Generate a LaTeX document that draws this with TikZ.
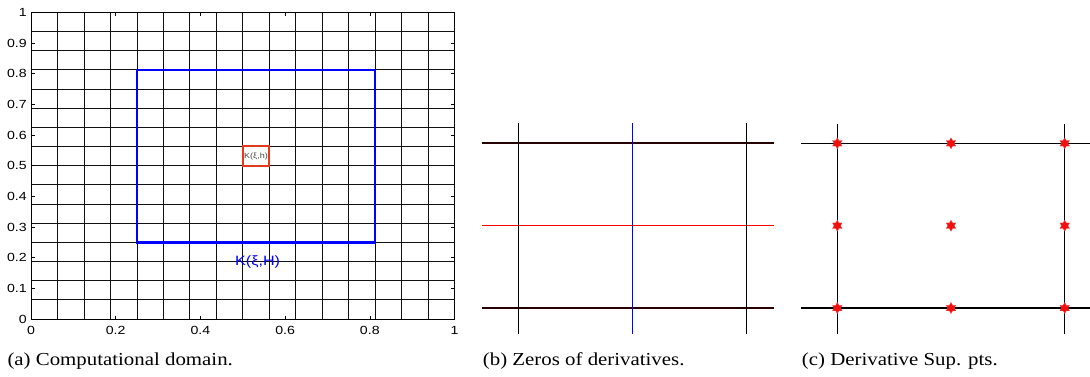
\documentclass[tikz,border=0pt]{standalone}
\usepackage{fontspec}
\setmainfont{Liberation Serif}
\newfontfamily\axisfont[FakeStretch=1.2]{Liberation Sans}
\newfontfamily\capfont[FakeStretch=1.14]{Liberation Serif}
\usetikzlibrary{shapes.geometric}
\definecolor{boxblue}{HTML}{0000FF}
\definecolor{cellred}{HTML}{E2381C}
\definecolor{zerored}{HTML}{FF0000}
\definecolor{starred}{HTML}{F01010}
\definecolor{ink}{HTML}{111111}

\begin{document}
\begin{tikzpicture}[
    x=1pt, y=-1pt,
    gridline/.style={draw=ink, line width=0.75pt},
    axisbox/.style={draw=black, line width=1pt},
    ticklab/.style={font=\axisfont\fontsize{11.8}{12}\selectfont, inner sep=0pt},
    domainbox/.style={draw=boxblue, line width=2.6pt},
    cellbox/.style={draw=cellred, line width=2pt, minimum width=26.5pt, minimum height=19.2pt,
      inner sep=0pt, font=\axisfont\fontsize{7.5}{8}\selectfont, text=ink!80},
    meshline/.style={draw=black, line width=1.3pt},
    zeroline/.style={line width=1.2pt},
    supstar/.style={star, star points=6, star point ratio=1.73, minimum size=11pt,
      inner sep=0pt, fill=starred, draw=starred!80, line width=0.3pt},
    caption/.style={font=\capfont\fontsize{18.3}{20}\selectfont, inner sep=0pt, anchor=base west}
  ]
  \useasboundingbox (0,0) rectangle (1090,376);

  % (a) computational domain, unit square
  \begin{scope}[shift={(31,319)}, x=423.5pt, y=306.7pt]
    \foreach \k in {0,...,16} {
      \draw[gridline] (\k/16,0) -- (\k/16,1);
      \draw[gridline] (0,\k/16) -- (1,\k/16);
    }
    \draw[axisbox] (0,0) rectangle (1,1);
    \foreach \v/\s [count=\i] in {0/0,0.2/0.2,0.4/0.4,0.6/0.6,0.8/0.8,1/1} {
      \draw[line width=0.6pt] (\v,0) -- ++(0,3.5pt) (\v,1) -- ++(0,-3.5pt);
      \node[ticklab, yshift=-11.5pt] (xt\i) at (\v,0) {\s};
    }
    \foreach \v/\s [count=\i] in {0/0,0.1/0.1,0.2/0.2,0.3/0.3,0.4/0.4,0.5/0.5,0.6/0.6,0.7/0.7,0.8/0.8,0.9/0.9,1/1} {
      \draw[line width=0.6pt] (0,\v) -- ++(3.5pt,0) (1,\v) -- ++(-3.5pt,0);
      \node[ticklab, anchor=east, xshift=-4pt] (yt\i) at (0,\v) {\s};
    }
    \draw[domainbox] (0.25,0.25) rectangle (0.8125,0.8125);
    \node[font=\axisfont\fontsize{13.5}{14}\selectfont, text=boxblue, inner sep=0pt] (bigK) at (0.535,0.186) {K(ξ,H)};
    \node[cellbox] (smallK) at (0.53125,0.53125) {K(ξ,h)};
  \end{scope}
  \node[caption] (capa) at (7.3,365) {(a) Computational domain.};

  % (b) zeros of derivatives
  \coordinate (btop) at (518.7,123.3);
  \coordinate (bbot) at (518.7,334.3);
  \draw[zeroline, draw=zerored] (482,225.5) -- (774,225.5);
  \draw[meshline, draw=black!85!zerored] (482,143) -- (774,143);
  \draw[meshline, draw=black!85!zerored] (482,308) -- (774,308);
  \draw[meshline, line width=1.2pt] (btop) -- (bbot);
  \draw[meshline, line width=1.2pt] ([xshift=227.6pt]btop) -- ([xshift=227.6pt]bbot);
  \draw[zeroline, draw=boxblue, line width=1pt] ([xshift=113.6pt]btop) -- ([xshift=113.6pt]bbot);
  \node[caption] (capb) at (482.7,365) {(b) Zeros of derivatives.};

  % (c) derivative superconvergence points
  \draw[meshline, line width=1.1pt] (801,143.3) -- (1090,143.3);
  \draw[meshline, line width=1.1pt] (801,308) -- (1090,308);
  \draw[meshline, line width=1.1pt] (837.3,124) -- (837.3,334);
  \draw[meshline, line width=1.1pt] (1064.7,124) -- (1064.7,334);
  \foreach \c [count=\i] in {837.3,951,1064.7}
    \foreach \r [count=\j] in {143.3,225.7,308}
      \node[supstar] (sp\i\j) at (\c,\r) {};
  \node[caption] (capc) at (801.7,365) {(c) Derivative Sup. pts.};
\end{tikzpicture}
\end{document}
